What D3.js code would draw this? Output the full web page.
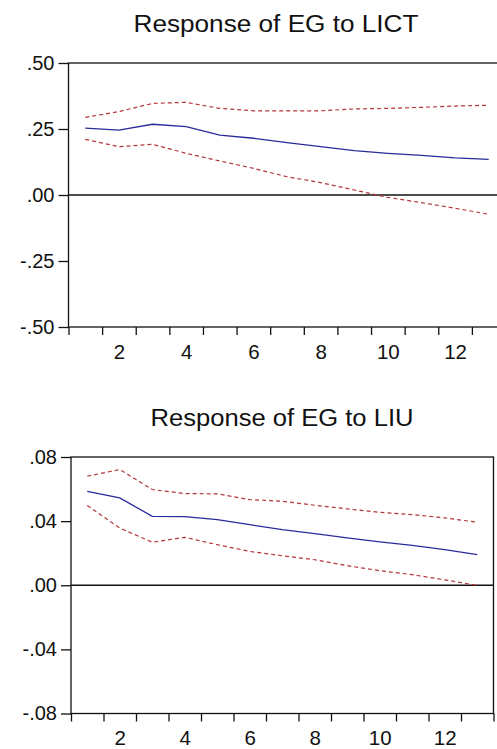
<!DOCTYPE html>
<html>
<head>
<meta charset="utf-8">
<script src="https://cdn.jsdelivr.net/npm/d3@7"></script>
<style>
  html, body { margin: 0; padding: 0; background: #fff; }
  svg { display: block; }
  text { font-family: Arial, "Liberation Sans", sans-serif; fill: #111; }
</style>
</head>
<body>
<script>
// ---- data ----
const periods = [1,2,3,4,5,6,7,8,9,10,11,12,13];
const xTickLabels = [2,4,6,8,10,12];

const titleTop = "Response of EG to LICT";
const respTop  = [0.253,0.246,0.268,0.259,0.227,0.215,0.198,0.183,0.168,0.158,0.150,0.141,0.135];
const upperTop = [0.294,0.316,0.347,0.351,0.328,0.319,0.319,0.319,0.326,0.328,0.332,0.337,0.340];
const lowerTop = [0.211,0.183,0.192,0.158,0.129,0.101,0.069,0.047,0.019,-0.009,-0.029,-0.050,-0.073];
const yTicksTop = [-0.50,-0.25,0.00,0.25,0.50];
const yLabelsTop = ["-.50","-.25",".00",".25",".50"];

const titleBot = "Response of EG to LIU";
const respBot  = [0.0586,0.0545,0.0430,0.0428,0.0409,0.0378,0.0347,0.0322,0.0295,0.0270,0.0249,0.0222,0.0191];
const upperBot = [0.0680,0.0722,0.0597,0.0572,0.0570,0.0534,0.0524,0.0499,0.0476,0.0455,0.0441,0.0420,0.0393];
const lowerBot = [0.0497,0.0357,0.0268,0.0299,0.0253,0.0211,0.0184,0.0159,0.0122,0.0091,0.0066,0.0034,-0.0001];
const yTicksBot = [-0.08,-0.04,0.00,0.04,0.08];
const yLabelsBot = ["-.08","-.04",".00",".04",".08"];

// ---- drawing ----
const W = 497, H = 749;
const svg = d3.select("body").append("svg").attr("width", W).attr("height", H);

function panel(cfg) {
  const g = svg.append("g");
  const x = d3.scaleLinear().domain([0.5, 13.5]).range([cfg.left, cfg.right]);
  const y = d3.scaleLinear().domain(cfg.yDomain).range([cfg.bottom, cfg.top]);

  // title
  g.append("text")
    .attr("x", cfg.titleX).attr("y", cfg.titleY)
    .attr("text-anchor", "middle")
    .attr("font-size", 23)
    .attr("textLength", cfg.titleW).attr("lengthAdjust", "spacingAndGlyphs")
    .text(cfg.title);

  // frame
  g.append("rect")
    .attr("x", cfg.left).attr("y", cfg.top)
    .attr("width", cfg.right - cfg.left).attr("height", cfg.bottom - cfg.top)
    .attr("fill", "none").attr("stroke", "#111").attr("stroke-width", 1.3);

  // y axis
  const ya = d3.axisLeft(y).tickValues(cfg.yTicks)
    .tickFormat((d, i) => cfg.yLabels[i]).tickSize(10).tickPadding(4);
  const yg = g.append("g").attr("transform", `translate(${cfg.left},0)`).call(ya);
  yg.select(".domain").remove();
  yg.selectAll("line").attr("stroke", "#111").attr("stroke-width", 1.3);
  yg.selectAll("text").attr("font-size", 20).attr("font-family", "Arial, 'Liberation Sans', sans-serif").attr("fill", "#222");

  // x axis ticks at band boundaries
  const bounds = d3.range(0.5, 14, 1);
  const xa = d3.axisBottom(x).tickValues(bounds).tickFormat("").tickSize(8);
  const xg = g.append("g").attr("transform", `translate(0,${cfg.bottom})`).call(xa);
  xg.select(".domain").remove();
  xg.selectAll("line").attr("stroke", "#111").attr("stroke-width", 1.3);

  // x labels at band centres
  const xl = d3.axisBottom(x).tickValues(xTickLabels).tickSize(0).tickPadding(cfg.xPad);
  const xlg = g.append("g").attr("transform", `translate(0,${cfg.bottom})`).call(xl);
  xlg.select(".domain").remove();
  xlg.selectAll("text").attr("font-size", 20.5).attr("font-family", "Arial, 'Liberation Sans', sans-serif").attr("fill", "#222");

  // zero line
  g.append("line")
    .attr("x1", cfg.left).attr("x2", cfg.right)
    .attr("y1", y(0)).attr("y2", y(0))
    .attr("stroke", "#111").attr("stroke-width", 1.3);

  const line = d3.line().x((d, i) => x(periods[i])).y(d => y(d));

  g.append("path").datum(cfg.upper).attr("d", line)
    .attr("fill", "none").attr("stroke", "#b5353a").attr("stroke-width", 1.2)
    .attr("stroke-dasharray", "4,3");
  g.append("path").datum(cfg.lower).attr("d", line)
    .attr("fill", "none").attr("stroke", "#b5353a").attr("stroke-width", 1.2)
    .attr("stroke-dasharray", "4,3");
  g.append("path").datum(cfg.resp).attr("d", line)
    .attr("fill", "none").attr("stroke", "#2a2a9c").attr("stroke-width", 1.3);
}

panel({
  title: titleTop, titleX: 276, titleY: 32, titleW: 285,
  left: 68.5, right: 505.5, top: 63, bottom: 327,
  yDomain: [-0.5, 0.5], yTicks: yTicksTop, yLabels: yLabelsTop,
  resp: respTop, upper: upperTop, lower: lowerTop, xPad: 17
});

panel({
  title: titleBot, titleX: 282, titleY: 426, titleW: 263,
  left: 71, right: 493.5, top: 457, bottom: 713.5,
  yDomain: [-0.08, 0.08], yTicks: yTicksBot, yLabels: yLabelsBot,
  resp: respBot, upper: upperBot, lower: lowerBot, xPad: 17
});
</script>
</body>
</html>
